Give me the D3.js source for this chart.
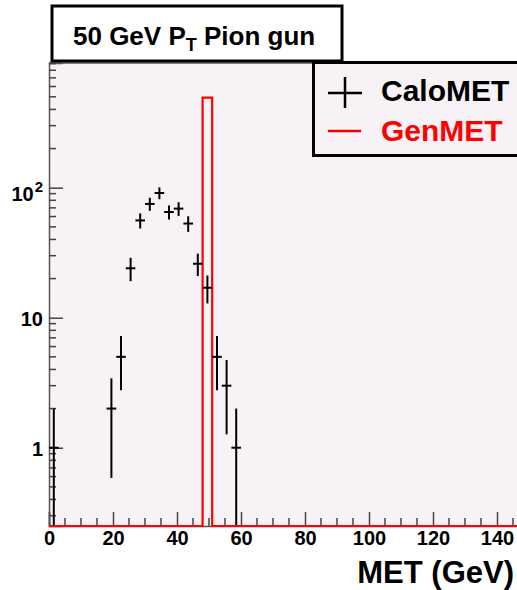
<!DOCTYPE html>
<html>
<head>
<meta charset="utf-8">
<script src="https://cdn.jsdelivr.net/npm/d3@7"></script>
<style>
  body { margin: 0; background: #fff; }
  text { font-family: "Liberation Sans", Arial, sans-serif; font-weight: bold; }
</style>
</head>
<body>
<div id="chart"></div>
<script>
// CaloMET points (bin centres, 3 GeV bins) and counts
var binCenters = [1.5, 19.5, 22.5, 25.5, 28.5, 31.5, 34.5, 37.5, 40.5, 43.5, 46.5, 49.5, 52.5, 55.5, 58.5];
var caloMET = [1, 2, 5, 24, 56, 75, 91, 65, 69, 53, 26, 17, 5, 3, 1];
// GenMET histogram (edges + counts)
var genEdges = [0, 48, 51, 150];
var genMET = [0, 493, 0];
var xTicks = [0, 20, 40, 60, 80, 100, 120, 140];
var yTickVals = [1, 10, 100];
var yTickLabels = ["1", "10", "10|2"];
var binWidth = 3;

function setUpChart() {
  var svgWidth = 517, svgHeight = 590;
  var plot = { left: 49, right: 529, top: 63, bottom: 526 };
  var bg = "#f6f2f6";

  var svg = d3.select("#chart").append("svg")
    .attr("width", svgWidth)
    .attr("height", svgHeight);

  var x = d3.scaleLinear().domain([0, 150]).range([plot.left, plot.right]);
  var y = d3.scaleLog().domain([0.25, 910]).range([plot.bottom, plot.top]);

  // plot background
  svg.append("rect")
    .attr("x", plot.left).attr("y", plot.top)
    .attr("width", plot.right - plot.left).attr("height", plot.bottom - plot.top)
    .attr("fill", bg);

  svg.append("clipPath").attr("id", "clip")
    .append("rect")
    .attr("x", plot.left).attr("y", plot.top)
    .attr("width", plot.right - plot.left).attr("height", plot.bottom - plot.top + 2);

  // frame top
  svg.append("line")
    .attr("x1", plot.left).attr("x2", plot.right)
    .attr("y1", plot.top).attr("y2", plot.top)
    .attr("stroke", "#555").attr("stroke-width", 1.5);

  // axes - ticks drawn inside the frame
  var xMinor = d3.range(0, 151, 5).filter(d => d % 20 !== 0);
  var bottomAxis = d3.axisBottom(x).tickValues(xTicks).tickSize(-14).tickPadding(5).tickFormat(d3.format("d"));
  var gx = svg.append("g")
    .attr("transform", `translate(0, ${plot.bottom})`)
    .call(bottomAxis);
  gx.selectAll("g.minor").data(xMinor).enter().append("line")
    .attr("x1", d => x(d)).attr("x2", d => x(d))
    .attr("y1", 0).attr("y2", -8);

  var yMinor = [];
  [0.1, 1, 10, 100].forEach(function(dec) {
    for (var k = 2; k <= 9; k++) {
      var v = dec * k;
      if (v >= 0.25 && v <= 910) yMinor.push(v);
    }
  });
  var leftAxis = d3.axisLeft(y).tickValues(yTickVals).tickSize(-14).tickPadding(6).tickFormat("");
  var gy = svg.append("g")
    .attr("transform", `translate(${plot.left}, 0)`)
    .call(leftAxis);
  gy.selectAll("line.minor").data(yMinor).enter().append("line")
    .attr("x1", 0).attr("x2", 7)
    .attr("y1", d => y(d)).attr("y2", d => y(d));

  [gx, gy].forEach(function(g) {
    g.select(".domain").attr("stroke", "#555").attr("stroke-width", 1.5);
    g.selectAll("line").attr("stroke", "#444").attr("stroke-width", 1.5);
  });
  gx.selectAll(".tick text").attr("font-size", "20px").attr("fill", "#000")
    .attr("font-family", "Liberation Sans, Arial, sans-serif").attr("font-weight", "bold");

  // y tick labels with superscript
  yTickVals.forEach(function(v, i) {
    var parts = yTickLabels[i].split("|");
    var t = svg.append("text")
      .attr("x", 43).attr("y", y(v) + (parts[1] ? 13 : 8.5))
      .attr("text-anchor", "end")
      .attr("font-size", "20px");
    t.append("tspan").text(parts[0]);
    if (parts[1]) {
      t.append("tspan").attr("dy", -9).attr("dx", 1).attr("font-size", "15px").text(parts[1]);
    }
  });

  var chartGroup = svg.append("g").attr("clip-path", "url(#clip)");

  // GenMET step histogram (zeros sit on the floor)
  var pts = [];
  genMET.forEach(function(n, i) {
    var yy = n > 0 ? y(n) : plot.bottom;
    pts.push([x(genEdges[i]), yy]);
    pts.push([x(genEdges[i + 1]), yy]);
  });
  chartGroup.append("path")
    .attr("d", d3.line()(pts))
    .attr("fill", "none")
    .attr("stroke", "#ff0000")
    .attr("stroke-width", 2.2);

  // CaloMET points with sqrt(N) errors
  var calo = binCenters.map((c, i) => ({ c: c, n: caloMET[i] }));
  var pg = chartGroup.selectAll("g.pt").data(calo).enter().append("g");
  pg.append("line")
    .attr("x1", d => x(d.c)).attr("x2", d => x(d.c))
    .attr("y1", d => d.n - Math.sqrt(d.n) > 0 ? y(d.n - Math.sqrt(d.n)) : plot.bottom - 1)
    .attr("y2", d => y(d.n + Math.sqrt(d.n)))
    .attr("stroke", "#000").attr("stroke-width", 2);
  pg.append("line")
    .attr("x1", d => x(d.c - binWidth / 2)).attr("x2", d => x(d.c + binWidth / 2))
    .attr("y1", d => y(d.n)).attr("y2", d => y(d.n))
    .attr("stroke", "#000").attr("stroke-width", 2);

  // x axis title
  svg.append("text")
    .attr("x", 514).attr("y", 583)
    .attr("text-anchor", "end")
    .attr("font-size", "31px")
    .text("MET (GeV)");

  // title box
  svg.append("rect")
    .attr("x", 52).attr("y", 6).attr("width", 290).attr("height", 55)
    .attr("fill", "#fff").attr("stroke", "#000").attr("stroke-width", 3);
  var title = svg.append("text").attr("x", 73).attr("y", 45).attr("font-size", "26px");
  title.append("tspan").text("50 GeV P");
  title.append("tspan").attr("dy", 6).attr("font-size", "18px").text("T");
  title.append("tspan").attr("dy", -6).text(" Pion gun");

  // legend box
  svg.append("rect")
    .attr("x", 313.5).attr("y", 62.5).attr("width", 230).attr("height", 93)
    .attr("fill", bg).attr("stroke", "#000").attr("stroke-width", 3);
  svg.append("line").attr("x1", 328).attr("x2", 362).attr("y1", 93).attr("y2", 93)
    .attr("stroke", "#000").attr("stroke-width", 2.5);
  svg.append("line").attr("x1", 345).attr("x2", 345).attr("y1", 77).attr("y2", 108)
    .attr("stroke", "#000").attr("stroke-width", 2.5);
  svg.append("text").attr("x", 381).attr("y", 101).attr("font-size", "30px").text("CaloMET");
  svg.append("line").attr("x1", 328).attr("x2", 361).attr("y1", 131).attr("y2", 131)
    .attr("stroke", "#ff0000").attr("stroke-width", 2.5);
  svg.append("text").attr("x", 381).attr("y", 141).attr("font-size", "30px")
    .attr("fill", "#ff0000").text("GenMET");
}

setUpChart();
</script>
</body>
</html>
